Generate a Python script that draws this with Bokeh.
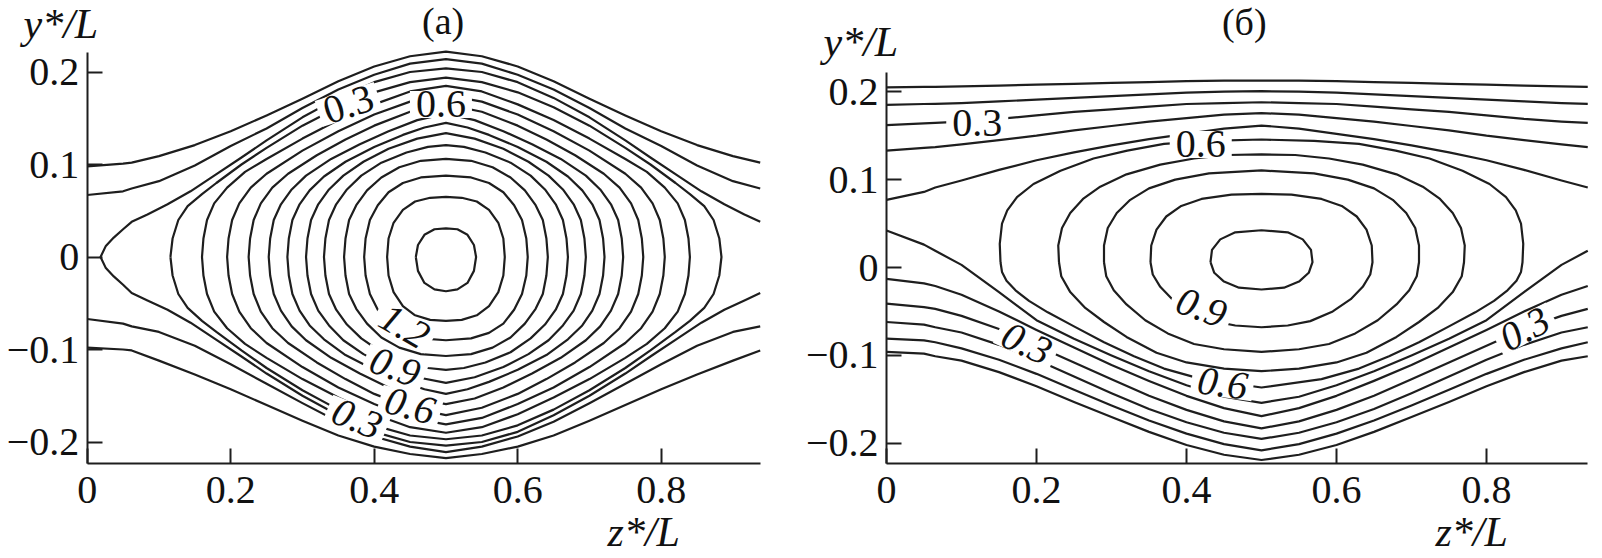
from bokeh.plotting import figure
from bokeh.models import ColumnDataSource, Range1d, FixedTicker, LinearAxis
from bokeh.embed import file_html
from bokeh.resources import INLINE
from bokeh.core.properties import value

FONT = "Liberation Serif"
INK = "#1e1e1e"
TXT = "#111111"

# ---------------- panel (a): left half (z <= 0.5) of each contour, upper / lower branch
a01_z = [0.0, 0.05, 0.062, 0.1, 0.15, 0.2, 0.25, 0.3, 0.35, 0.4, 0.45, 0.5]
a01_up = [0.098, 0.101, 0.102, 0.109, 0.121, 0.136, 0.153, 0.171, 0.19, 0.206, 0.217, 0.222]
a01_dn = [-0.098, -0.1, -0.101, -0.112, -0.127, -0.143, -0.16, -0.177, -0.193, -0.205, -0.213, -0.2175]
a02_z = [0.0, 0.05, 0.062, 0.1, 0.15, 0.2, 0.25, 0.3, 0.35, 0.4, 0.45, 0.5]
a02_up = [0.067, 0.071, 0.074, 0.082, 0.099, 0.12, 0.139, 0.161, 0.181, 0.197, 0.209, 0.214]
a02_dn = [-0.067, -0.072, -0.075, -0.081, -0.096, -0.116, -0.137, -0.158, -0.178, -0.194, -0.205, -0.211]
a03_z = [0.0186, 0.026, 0.037, 0.05, 0.062, 0.084, 0.112, 0.144, 0.177, 0.214, 0.25, 0.3, 0.35, 0.4, 0.45, 0.5]
a03_up = [0.0, 0.012, 0.021, 0.03, 0.038, 0.046, 0.057, 0.071, 0.088, 0.107, 0.126, 0.151, 0.172, 0.189, 0.2, 0.204]
a03_dn = [0.0, -0.012, -0.021, -0.03, -0.039, -0.047, -0.057, -0.071, -0.088, -0.107, -0.126, -0.15, -0.171, -0.189, -0.2, -0.204]
a04_z = [0.116, 0.119, 0.127, 0.14, 0.16, 0.18, 0.215, 0.25, 0.3, 0.35, 0.4, 0.45, 0.5]
a04_up = [0.0, 0.02, 0.04, 0.055, 0.068, 0.08, 0.1, 0.118, 0.142, 0.162, 0.178, 0.189, 0.194]
a04_dn = [0.0, -0.02, -0.04, -0.055, -0.069, -0.081, -0.101, -0.12, -0.144, -0.165, -0.182, -0.193, -0.197]
a05_z = [0.16, 0.162, 0.167, 0.177, 0.195, 0.22, 0.25, 0.3, 0.35, 0.4, 0.45, 0.5]
a05_up = [0.0, 0.02, 0.04, 0.058, 0.075, 0.092, 0.106, 0.128, 0.148, 0.165, 0.179, 0.185]
a05_dn = [0.0, -0.02, -0.04, -0.059, -0.077, -0.094, -0.109, -0.132, -0.152, -0.17, -0.184, -0.19]
a06_z = [0.195, 0.197, 0.202, 0.212, 0.228, 0.25, 0.3, 0.35, 0.4, 0.45, 0.5]
a06_up = [0.0, 0.02, 0.04, 0.058, 0.075, 0.09, 0.115, 0.136, 0.154, 0.168, 0.175]
a06_dn = [0.0, -0.02, -0.04, -0.059, -0.077, -0.093, -0.119, -0.141, -0.159, -0.174, -0.181]
a07_z = [0.225, 0.227, 0.232, 0.242, 0.258, 0.28, 0.32, 0.36, 0.4, 0.45, 0.5]
a07_up = [0.0, 0.02, 0.04, 0.058, 0.075, 0.09, 0.11, 0.127, 0.142, 0.157, 0.165]
a07_dn = [0.0, -0.02, -0.04, -0.059, -0.077, -0.093, -0.114, -0.132, -0.148, -0.163, -0.171]
a08_z = [0.253, 0.255, 0.26, 0.27, 0.285, 0.305, 0.34, 0.38, 0.42, 0.46, 0.5]
a08_up = [0.0, 0.02, 0.04, 0.057, 0.073, 0.088, 0.106, 0.122, 0.136, 0.148, 0.155]
a08_dn = [0.0, -0.02, -0.04, -0.058, -0.075, -0.09, -0.109, -0.126, -0.141, -0.153, -0.159]
a09_z = [0.279, 0.281, 0.286, 0.296, 0.31, 0.33, 0.36, 0.4, 0.44, 0.47, 0.5]
a09_up = [0.0, 0.02, 0.04, 0.057, 0.072, 0.087, 0.103, 0.119, 0.132, 0.14, 0.145]
a09_dn = [0.0, -0.02, -0.04, -0.058, -0.074, -0.089, -0.106, -0.122, -0.135, -0.143, -0.148]
a10_z = [0.305, 0.307, 0.312, 0.322, 0.337, 0.357, 0.385, 0.42, 0.46, 0.5]
a10_up = [0.0, 0.02, 0.04, 0.057, 0.073, 0.088, 0.103, 0.117, 0.128, 0.134]
a10_dn = [0.0, -0.02, -0.04, -0.058, -0.074, -0.09, -0.105, -0.119, -0.13, -0.136]
a11_z = [0.33, 0.332, 0.337, 0.347, 0.362, 0.382, 0.41, 0.445, 0.475, 0.5]
a11_up = [0.0, 0.02, 0.04, 0.057, 0.073, 0.088, 0.102, 0.113, 0.119, 0.121]
a11_dn = [0.0, -0.02, -0.04, -0.057, -0.073, -0.088, -0.103, -0.114, -0.12, -0.122]
a12_z = [0.358, 0.36, 0.365, 0.375, 0.39, 0.41, 0.435, 0.465, 0.5]
a12_up = [0.0, 0.02, 0.04, 0.056, 0.072, 0.086, 0.097, 0.104, 0.106]
a12_dn = [0.0, -0.02, -0.04, -0.056, -0.072, -0.087, -0.098, -0.105, -0.107]
a13_z = [0.386, 0.388, 0.394, 0.405, 0.42, 0.44, 0.465, 0.5]
a13_up = [0.0, 0.02, 0.04, 0.056, 0.07, 0.08, 0.086, 0.088]
a13_dn = [0.0, -0.02, -0.04, -0.057, -0.072, -0.082, -0.088, -0.09]
a14_z = [0.418, 0.42, 0.427, 0.44, 0.457, 0.478, 0.5]
a14_up = [0.0, 0.02, 0.037, 0.051, 0.06, 0.064, 0.065]
a14_dn = [0.0, -0.02, -0.038, -0.053, -0.063, -0.068, -0.069]
a15_z = [0.458, 0.461, 0.47, 0.484, 0.5]
a15_up = [0.0, 0.013, 0.024, 0.03, 0.031]
a15_dn = [0.0, -0.015, -0.028, -0.035, -0.037]

a_lab_z = [0.364, 0.493, 0.442, 0.429, 0.45, 0.376]
a_lab_y = [0.165, 0.165, -0.075, -0.119, -0.161, -0.175]
a_lab_t = ["0.3", "0.6", "1.2", "0.9", "0.6", "0.3"]
a_lab_ang = [18, 0, -30, -20, -15, -22]
a_lab_it = [False, False, True, True, True, True]

# ---------------- panel (b)
b_grid = [0.0, 0.05, 0.065, 0.1, 0.15, 0.2, 0.25, 0.3, 0.35, 0.4, 0.45, 0.5]
b_top01 = [0.205, 0.2055, 0.2055, 0.206, 0.207, 0.208, 0.209, 0.21, 0.211, 0.212, 0.2125, 0.2127]
b_top02 = [0.185, 0.186, 0.1862, 0.187, 0.189, 0.191, 0.193, 0.195, 0.197, 0.199, 0.2, 0.2006]
b_top03 = [0.162, 0.164, 0.1645, 0.166, 0.169, 0.173, 0.177, 0.18, 0.183, 0.186, 0.187, 0.188]
b_top04 = [0.133, 0.136, 0.137, 0.14, 0.145, 0.15, 0.156, 0.161, 0.166, 0.17, 0.174, 0.1756]
b_top05 = [0.077, 0.086, 0.091, 0.099, 0.111, 0.122, 0.131, 0.139, 0.146, 0.152, 0.158, 0.1615]
b_bot05 = [0.042, 0.026, 0.019, 0.003, -0.028, -0.06, -0.081, -0.1, -0.118, -0.134, -0.147, -0.154]
b_bot04 = [-0.013, -0.018, -0.021, -0.031, -0.05, -0.071, -0.091, -0.111, -0.129, -0.146, -0.16, -0.169]
b_bot03 = [-0.041, -0.045, -0.047, -0.055, -0.07, -0.089, -0.108, -0.127, -0.146, -0.162, -0.175, -0.183]
b_bot02 = [-0.062, -0.065, -0.068, -0.074, -0.088, -0.105, -0.124, -0.143, -0.161, -0.176, -0.188, -0.195]
b_bot01 = [-0.081, -0.083, -0.085, -0.092, -0.105, -0.121, -0.139, -0.157, -0.174, -0.189, -0.201, -0.208]
b_bot00 = [-0.096, -0.098, -0.101, -0.106, -0.119, -0.135, -0.153, -0.17, -0.187, -0.202, -0.213, -0.219]

b06_zu = [0.152, 0.151, 0.154, 0.161, 0.174, 0.196, 0.232, 0.276, 0.321, 0.37, 0.43, 0.5]
b06_up = [0.006, 0.027, 0.05, 0.065, 0.08, 0.095, 0.11, 0.124, 0.133, 0.1407, 0.144, 0.1456]
b06_zd = [0.152, 0.154, 0.16, 0.172, 0.19, 0.215, 0.25, 0.29, 0.33, 0.37, 0.42, 0.5]
b06_dn = [0.006, -0.005, -0.015, -0.026, -0.038, -0.051, -0.067, -0.085, -0.101, -0.115, -0.127, -0.1365]
b07_zu = [0.23, 0.229, 0.234, 0.245, 0.262, 0.285, 0.32, 0.365, 0.41, 0.455, 0.5]
b07_up = [0.006, 0.025, 0.045, 0.062, 0.078, 0.092, 0.106, 0.117, 0.124, 0.128, 0.1286]
b07_zd = [0.23, 0.233, 0.245, 0.265, 0.29, 0.32, 0.36, 0.4, 0.45, 0.5]
b07_dn = [0.006, -0.01, -0.028, -0.046, -0.062, -0.079, -0.097, -0.108, -0.115, -0.118]
b08_zu = [0.29, 0.29, 0.295, 0.307, 0.325, 0.35, 0.385, 0.43, 0.5]
b08_up = [0.006, 0.025, 0.045, 0.062, 0.077, 0.09, 0.1, 0.107, 0.1104]
b08_zd = [0.29, 0.293, 0.303, 0.32, 0.345, 0.375, 0.41, 0.45, 0.5]
b08_dn = [0.006, -0.01, -0.026, -0.042, -0.06, -0.075, -0.087, -0.093, -0.096]
b09_zu = [0.352, 0.353, 0.36, 0.373, 0.393, 0.42, 0.46, 0.5]
b09_up = [0.006, 0.025, 0.043, 0.058, 0.07, 0.078, 0.083, 0.0838]
b09_zd = [0.352, 0.355, 0.365, 0.381, 0.405, 0.435, 0.465, 0.5]
b09_dn = [0.006, -0.008, -0.022, -0.036, -0.05, -0.061, -0.066, -0.068]
b10_zu = [0.432, 0.434, 0.445, 0.465, 0.5]
b10_up = [0.006, 0.02, 0.032, 0.04, 0.0424]
b10_zd = [0.432, 0.437, 0.45, 0.47, 0.5]
b10_dn = [0.006, -0.006, -0.016, -0.023, -0.025]

b_lab_z = [0.121, 0.419, 0.42, 0.448, 0.187, 0.851]
b_lab_y = [0.164, 0.14, -0.0455, -0.132, -0.0865, -0.070]
b_lab_t = ["0.3", "0.6", "0.9", "0.6", "0.3", "0.3"]
b_lab_ang = [0, 0, -20, -8, -25, 28]
b_lab_it = [False, False, True, True, True, True]

# titles and axis names, in each panel's own data units (text centre line)
a_title_zy = (0.496, 0.2552)
a_ylab_zy = (-0.0888, 0.2514)
a_zlab_zy = (0.7252, -0.2975)
b_title_zy = (0.477, 0.2794)
b_ylab_zy = (-0.084, 0.2571)
b_zlab_zy = (0.732, -0.3012)

x_ticks = [0, 0.2, 0.4, 0.6, 0.8]
x_tick_text = ["0", "0.2", "0.4", "0.6", "0.8"]
y_ticks = [-0.2, -0.1, 0, 0.1, 0.2]
y_tick_text = ["\u22120.2", "\u22120.1", "0", "0.1", "0.2"]

# plot areas of the two panels
A_ZMAX, A_YLO, A_YHI = 0.938, -0.2229, 0.2214
B_ZMAX, B_YLO, B_YHI = 0.935, -0.2226, 0.2222

# ---------------- page geometry (pixel anchors of each panel's scale)
W, H = 1600, 556
A_PX0, A_PXU, A_PY0, A_PYU = 86.7, 717.5, 256.5, 925.0
B_PX0, B_PXU, B_PY0, B_PYU = 886.0, 750.0, 267.0, 879.0


def full(z, y, zmax):
    """left half mirrored about the symmetry line z = 0.5, kept inside the panel"""
    zs, ys = list(z), list(y)
    for zz, yy in zip(reversed(z[:-1]), reversed(y[:-1])):
        m = 1.0 - zz
        if m <= zmax + 1e-6:
            zs.append(min(m, zmax))
            ys.append(yy)
    return zs, ys


def closed(zu, yu, zd, yd, zmax):
    z1, y1 = full(zu, yu, zmax)
    z2, y2 = full(zd, yd, zmax)
    return z1 + z2[::-1], y1 + y2[::-1]


def through_tip(z, yu, yd, zmax):
    z1, y1 = full(z, yu, zmax)
    z2, y2 = full(z, yd, zmax)
    return z1[::-1] + z2[1:], y1[::-1] + y2[1:]


p = figure(width=W, height=H,
           x_range=Range1d(-A_PX0 / A_PXU, (W - A_PX0) / A_PXU),
           y_range=Range1d((A_PY0 - H) / A_PYU, A_PY0 / A_PYU),
           x_axis_location=None, y_axis_location=None,
           output_backend="svg", toolbar_location=None,
           min_border=0, min_border_left=0, min_border_right=0,
           min_border_top=0, min_border_bottom=0)
p.extra_x_ranges = {"b": Range1d(-B_PX0 / B_PXU, (W - B_PX0) / B_PXU)}
p.extra_y_ranges = {"b": Range1d((B_PY0 - H) / B_PYU, B_PY0 / B_PYU)}
p.outline_line_color = None
p.grid.visible = False
p.background_fill_color = "white"
p.border_fill_color = "white"


def style_axis(ax, ticks, texts, standoff):
    ax.ticker = FixedTicker(ticks=ticks)
    ax.major_label_overrides = dict(zip(ticks, texts))
    ax.major_tick_in = 15
    ax.major_tick_out = 0
    ax.minor_tick_line_color = None
    ax.axis_line_width = 2
    ax.major_tick_line_width = 2
    ax.axis_line_color = INK
    ax.major_tick_line_color = INK
    ax.major_label_text_font = FONT
    ax.major_label_text_font_size = "40px"
    ax.major_label_text_color = TXT
    ax.major_label_standoff = standoff


def add_axes(rn, zmax, ylo, yhi, ystandoff):
    kw = {} if rn is None else dict(x_range_name=rn, y_range_name=rn)
    xa = LinearAxis(fixed_location=ylo, bounds=(0, zmax), **kw)
    ya = LinearAxis(fixed_location=0, bounds=(ylo, yhi), **kw)
    style_axis(xa, x_ticks, x_tick_text, 14)
    style_axis(ya, y_ticks, y_tick_text, ystandoff)
    p.add_layout(xa, "below")
    p.add_layout(ya, "left")


def draw_lines(xs, ys, rn):
    kw = {} if rn is None else dict(x_range_name=rn, y_range_name=rn)
    p.multi_line(xs="xs", ys="ys", source=ColumnDataSource(dict(xs=xs, ys=ys)),
                 line_color=INK, line_width=2.2, line_join="round", **kw)


def add_labels(zs, ys, ts, angs, its, rn):
    kw = {} if rn is None else dict(x_range_name=rn, y_range_name=rn)
    src = ColumnDataSource(dict(x=zs, y=ys, t=ts, a=angs))
    p.rect(x="x", y="y", width=62, height=27, width_units="screen",
           height_units="screen", angle="a", angle_units="deg",
           fill_color="white", line_color=None, source=src, **kw)
    for flag, style in ((False, "normal"), (True, "italic")):
        idx = [i for i, f in enumerate(its) if f == flag]
        s = ColumnDataSource(dict(x=[zs[i] for i in idx], y=[ys[i] for i in idx],
                                  t=[ts[i] for i in idx], a=[angs[i] for i in idx]))
        p.text(x="x", y="y", text="t", angle="a", angle_units="deg", source=s,
               text_font=value(FONT), text_font_size="40px", text_font_style=style,
               text_align="center", text_baseline="middle", text_color=TXT, **kw)


def add_names(title, t_zy, y_zy, z_zy, rn):
    kw = {} if rn is None else dict(x_range_name=rn, y_range_name=rn)
    p.text(x=[t_zy[0]], y=[t_zy[1]], text=[title], text_font=value(FONT),
           text_font_size="38px", text_align="center", text_baseline="middle",
           text_color=TXT, **kw)
    p.text(x=[y_zy[0], z_zy[0]], y=[y_zy[1], z_zy[1]], text=["y*/L", "z*/L"],
           text_font=value(FONT), text_font_size="42px", text_font_style="italic",
           text_align="left", text_baseline="middle", text_color=TXT, **kw)


# ---------------- panel (a)
xs, ys = [], []
for z, u, d in ((a01_z, a01_up, a01_dn), (a02_z, a02_up, a02_dn)):
    for branch in (u, d):
        zz, yy = full(z, branch, A_ZMAX)
        xs.append(zz)
        ys.append(yy)
zz, yy = through_tip(a03_z, a03_up, a03_dn, A_ZMAX)
xs.append(zz)
ys.append(yy)
for z, u, d in ((a04_z, a04_up, a04_dn), (a05_z, a05_up, a05_dn), (a06_z, a06_up, a06_dn),
                (a07_z, a07_up, a07_dn), (a08_z, a08_up, a08_dn), (a09_z, a09_up, a09_dn),
                (a10_z, a10_up, a10_dn), (a11_z, a11_up, a11_dn), (a12_z, a12_up, a12_dn),
                (a13_z, a13_up, a13_dn), (a14_z, a14_up, a14_dn), (a15_z, a15_up, a15_dn)):
    zz, yy = closed(z, u, z, d, A_ZMAX)
    xs.append(zz)
    ys.append(yy)
draw_lines(xs, ys, None)
add_labels(a_lab_z, a_lab_y, a_lab_t, a_lab_ang, a_lab_it, None)
add_axes(None, A_ZMAX, A_YLO, A_YHI, 8)
add_names("(a)", a_title_zy, a_ylab_zy, a_zlab_zy, None)

# ---------------- panel (b)
xs, ys = [], []
for line in (b_top01, b_top02, b_top03, b_top04, b_top05,
             b_bot05, b_bot04, b_bot03, b_bot02, b_bot01, b_bot00):
    zz, yy = full(b_grid, line, B_ZMAX)
    xs.append(zz)
    ys.append(yy)
for zu, u, zd, d in ((b06_zu, b06_up, b06_zd, b06_dn), (b07_zu, b07_up, b07_zd, b07_dn),
                     (b08_zu, b08_up, b08_zd, b08_dn), (b09_zu, b09_up, b09_zd, b09_dn),
                     (b10_zu, b10_up, b10_zd, b10_dn)):
    zz, yy = closed(zu, u, zd, d, B_ZMAX)
    xs.append(zz)
    ys.append(yy)
draw_lines(xs, ys, "b")
add_labels(b_lab_z, b_lab_y, b_lab_t, b_lab_ang, b_lab_it, "b")
add_axes("b", B_ZMAX, B_YLO, B_YHI, 8)
add_names("(\u0431)", b_title_zy, b_ylab_zy, b_zlab_zy, "b")

open("out.html", "w").write(file_html(p, INLINE))
